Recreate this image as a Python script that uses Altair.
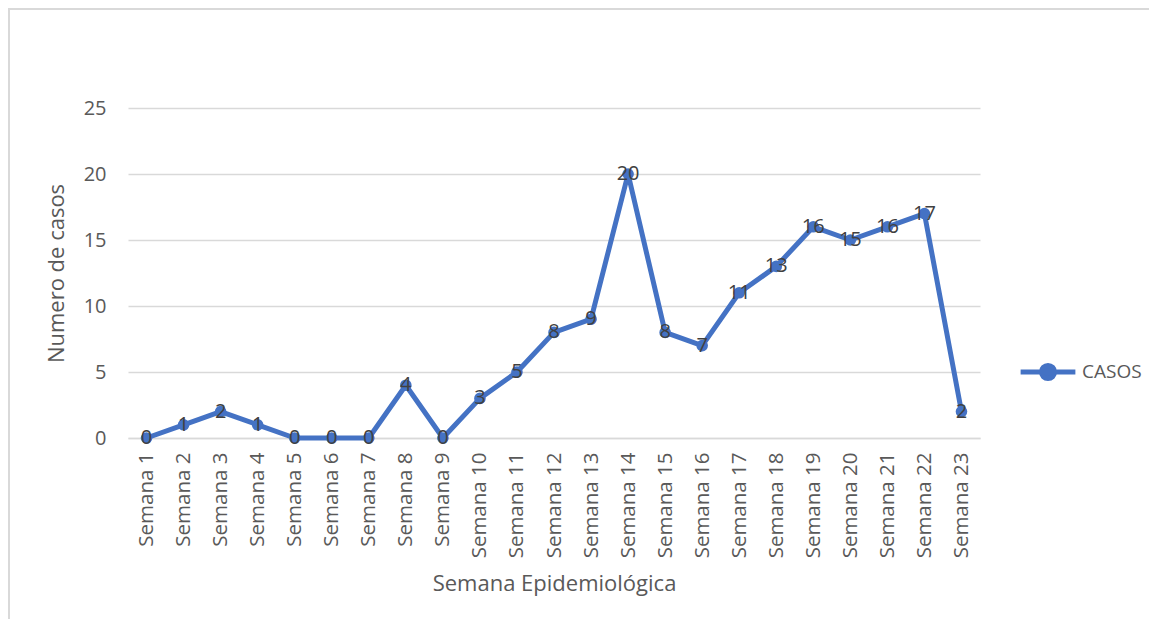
import altair as alt
import pandas as pd

semanas = [f"Semana {i}" for i in range(1, 24)]
casos = [0, 1, 2, 1, 0, 0, 0, 4, 0, 3, 5, 8, 9, 20, 8, 7, 11, 13, 16, 15, 16, 17, 2]
serie = "CASOS"

df = pd.DataFrame({"semana": semanas, "casos": casos, "serie": [serie] * len(semanas)})

FONT = "Open Sans"
BLUE = "#4472C4"
GRID = "#d9d9d9"
TXT = "#595959"

x = alt.X("semana:N", sort=semanas,
          scale=alt.Scale(type="point", padding=0.5),
          axis=alt.Axis(title="Semana Epidemiológica", labelAngle=270, labelAlign="right",
                        labelBaseline="middle", labelPadding=14, ticks=False,
                        domainColor=GRID, domainWidth=1.5, labelColor=TXT, labelFontSize=20.5,
                        labelFont=FONT, labelLimit=200, titleFont=FONT, titleFontSize=22,
                        titleColor=TXT, titleFontWeight="normal", titlePadding=16, grid=False))
y = alt.Y("casos:Q", scale=alt.Scale(domain=[0, 25]),
          axis=alt.Axis(title="Numero de casos", values=[0, 5, 10, 15, 20, 25], domain=False,
                        ticks=False, gridColor=GRID, gridWidth=1.5, labelColor=TXT,
                        labelFontSize=20, labelFont=FONT, labelPadding=22,
                        titleFont=FONT, titleFontSize=22, titleColor=TXT,
                        titleFontWeight="normal", titlePadding=15))
color = alt.Color("serie:N", scale=alt.Scale(domain=[serie], range=[BLUE]),
                  legend=alt.Legend(title=None, orient="none", legendX=890, legendY=234,
                                    symbolType="M -1 0 L 1 0 M -0.24 0 A 0.24 0.24 0 1 1 0.24 0 A 0.24 0.24 0 1 1 -0.24 0",
                                    symbolSize=3000, symbolStrokeWidth=5,
                                    symbolFillColor=BLUE, symbolStrokeColor=BLUE,
                                    labelFont=FONT, labelFontSize=19, labelColor=TXT,
                                    labelOffset=4))

base = alt.Chart(df)
line = base.mark_line(strokeWidth=5, strokeCap="round", strokeJoin="round").encode(x=x, y=y, color=color)
pts = base.mark_point(filled=True, size=135, opacity=1).encode(
    x=x, y=y, color=alt.Color("serie:N", legend=None, scale=alt.Scale(domain=[serie], range=[BLUE])))
labels = base.mark_text(font=FONT, fontSize=20, color="#404040", baseline="middle", align="center").encode(
    x=x, y=y, text="casos:Q")

border = alt.Chart(alt.Data(values=[{}])).mark_rect(fill=None, stroke=GRID, strokeWidth=2).encode(
    x=alt.value(-119), x2=alt.value(1200), y=alt.value(-99), y2=alt.value(700))

chart = alt.layer(border, line, pts, labels).properties(
    width=852, height=330,
    background="white",
    autosize=alt.AutoSizeParams(type="none"),
    padding={"left": 120, "top": 100, "right": 169, "bottom": 181},
).configure_view(stroke="transparent", strokeWidth=0)

chart.save("out.html", embed_options={"renderer": "svg", "actions": False})
